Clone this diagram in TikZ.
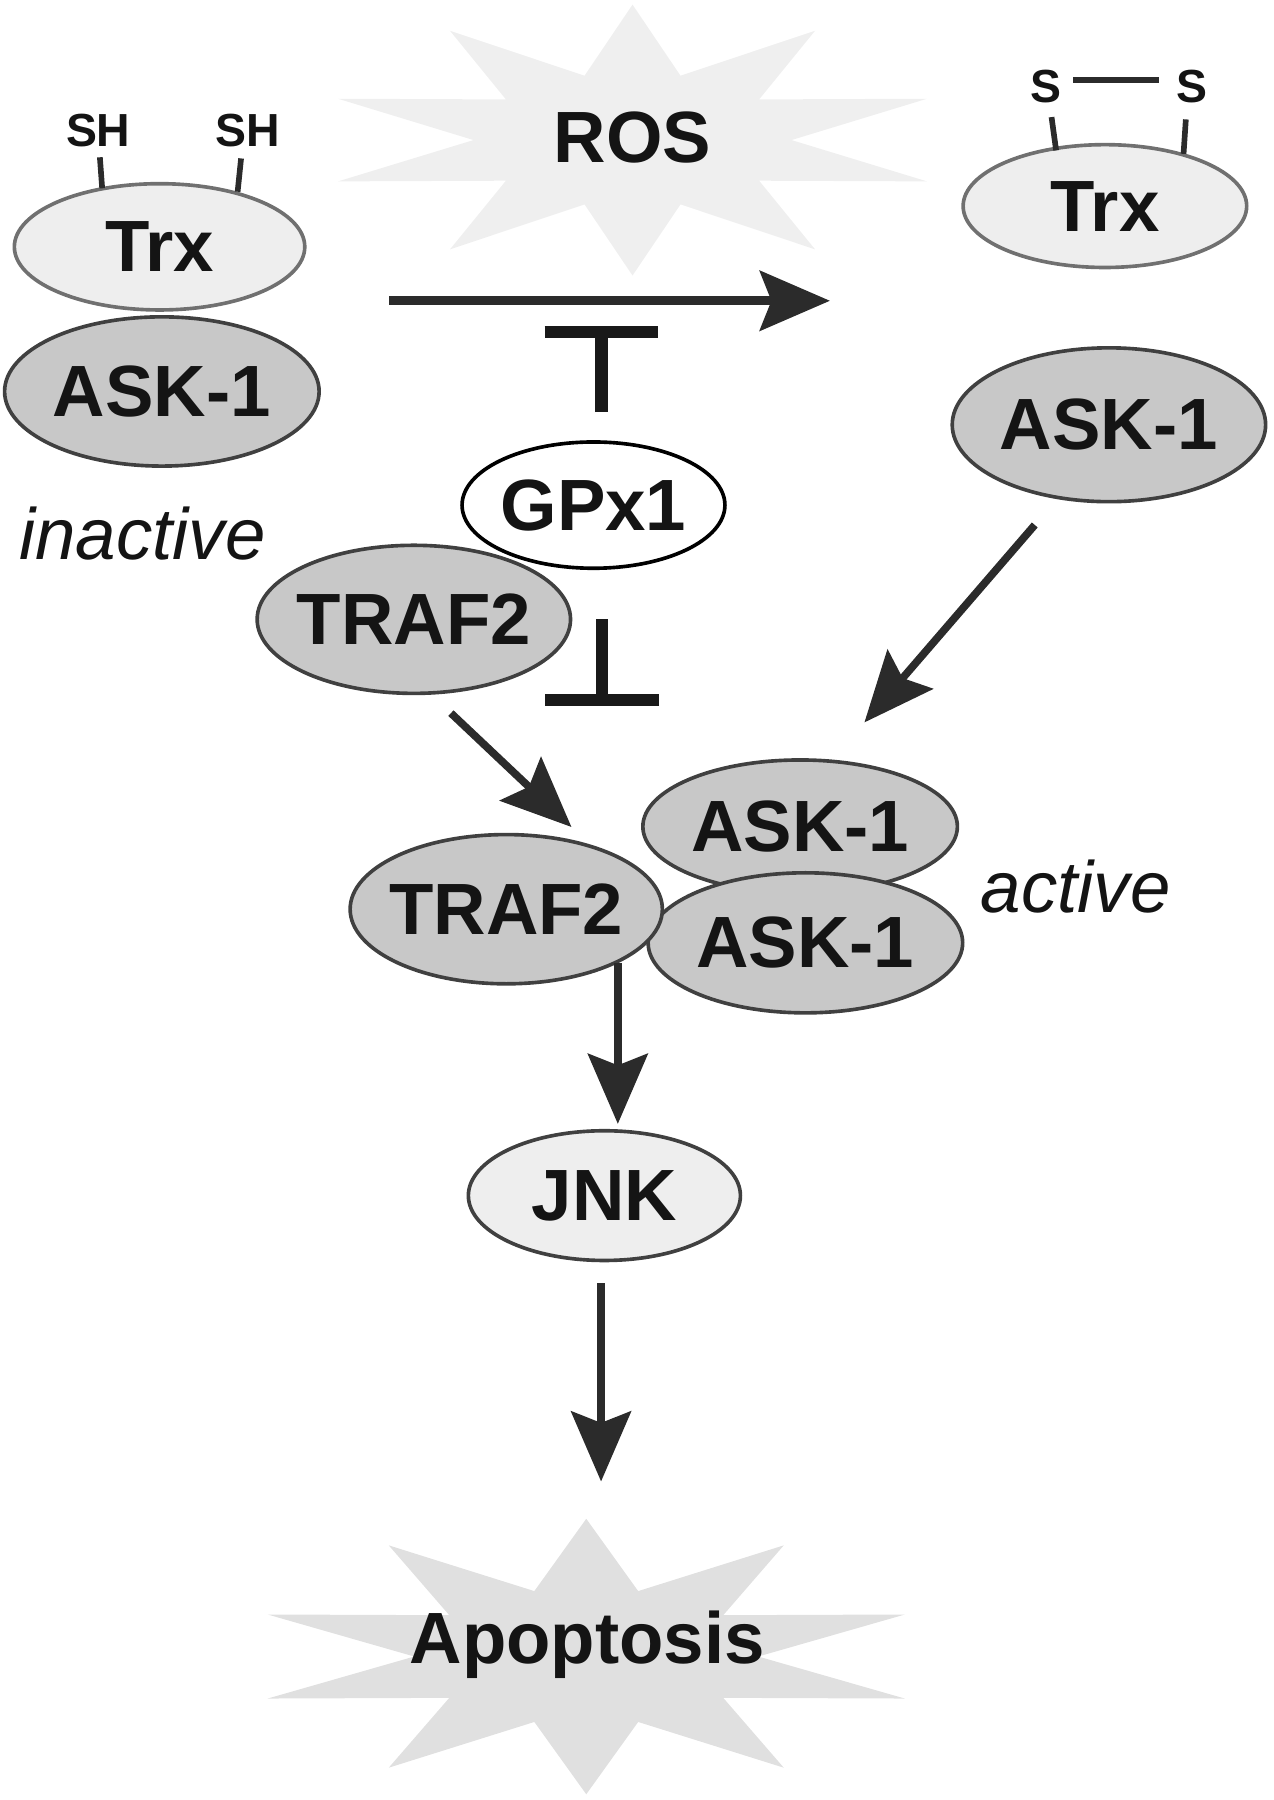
\documentclass[tikz,border=0pt]{standalone}
\usepackage{fontspec}
\setmainfont{Liberation Sans}
\usetikzlibrary{arrows.meta,shapes.geometric}

\definecolor{lightgrey}{HTML}{EEEEEE}
\definecolor{protgrey}{HTML}{C8C8C8}
\definecolor{rosgrey}{HTML}{EFEFEF}
\definecolor{apogrey}{HTML}{E0E0E0}
\definecolor{rimgrey}{HTML}{707070}
\definecolor{inkgrey}{HTML}{2B2B2B}

\tikzset{
  prot/.style={ellipse, draw=inkgrey!90, line width=0.9pt, fill=protgrey,
    inner xsep=-4mm, inner ysep=0pt, outer sep=0pt, text=black!92,
    font=\fontsize{18}{20}\selectfont\bfseries},
  trx/.style={prot, draw=rimgrey, fill=lightgrey},
  burst/.style={text=black!92, font=\fontsize{18}{20}\selectfont\bfseries},
  thiol/.style={text=black!92, inner sep=0pt, font=\fontsize{11.5}{13}\selectfont\bfseries},
  bond/.style={draw=inkgrey, line width=1.4pt},
  statetext/.style={text=black!92, font=\fontsize{18}{20}\selectfont\itshape},
  act/.style={draw=inkgrey, line width=1.9pt,
    -{Stealth[length=6.1mm,width=5.2mm,inset=1mm]}},
  inh/.style={draw=black!90, line width=3pt,
    -{Bar[width=9.9mm,line width=3pt]}}
}

\begin{document}
\begin{tikzpicture}[x=0.1mm, y=-0.1mm]
  \useasboundingbox (0,0) rectangle (1109,1568);

  % bursts
  \fill[rosgrey, shift={(551,122)}, xscale=256.5, yscale=118]
    (0,-1) -- (0.163,-0.475) -- (0.62,-0.807) -- (0.43,-0.3) -- (1,-0.305) -- (0.54,0)
    -- (1,0.305) -- (0.43,0.3) -- (0.62,0.807) -- (0.163,0.475) -- (0,1) -- (-0.163,0.475)
    -- (-0.62,0.807) -- (-0.43,0.3) -- (-1,0.305) -- (-0.54,0) -- (-1,-0.305) -- (-0.43,-0.3)
    -- (-0.62,-0.807) -- (-0.163,-0.475) -- cycle;
  \fill[apogrey, shift={(510.7,1443)}, xscale=277.5, yscale=120]
    (0,-1) -- (0.163,-0.475) -- (0.62,-0.807) -- (0.43,-0.3) -- (1,-0.305) -- (0.54,0)
    -- (1,0.305) -- (0.43,0.3) -- (0.62,0.807) -- (0.163,0.475) -- (0,1) -- (-0.163,0.475)
    -- (-0.62,0.807) -- (-0.43,0.3) -- (-1,0.305) -- (-0.54,0) -- (-1,-0.305) -- (-0.43,-0.3)
    -- (-0.62,-0.807) -- (-0.163,-0.475) -- cycle;
  \node[burst, anchor=base] (ros) at (551,141.5) {ROS};
  \node[burst, anchor=base] (apo) at (511.5,1448.7) {Apoptosis};

  % inactive complex
  \node[trx, minimum width=25.3mm, minimum height=11mm] (trxL) at (139,215) {Trx};
  \node[prot, minimum width=27.4mm, minimum height=13mm] (askL) at (141,341) {ASK-1};
  \node[thiol] (shL) at (85.6,113.5) {SH};
  \node[thiol] (shR) at (216,113.5) {SH};
  \draw[bond] (87,137) -- (89,164);
  \draw[bond] (210,138) -- (207,167);
  \node[statetext] (inact) at (124,465) {inactive};

  % oxidised Trx
  \node[trx, minimum width=24.7mm, minimum height=10.7mm] (trxR) at (962.5,179.5) {Trx};
  \node[thiol] (sL) at (911,75) {S};
  \node[thiol] (sR) at (1038,75) {S};
  \draw[bond] (935,69.5) -- (1010,69.5);
  \draw[bond] (916,102) -- (920,131);
  \draw[bond] (1033,104) -- (1031,134);
  \node[prot, minimum width=27.3mm, minimum height=13.4mm] (askR) at (966,370) {ASK-1};

  % GPx1 / TRAF2
  \node[prot, fill=white, draw=black, minimum width=22.9mm, minimum height=11mm] (gpx) at (517,440) {GPx1};
  \node[prot, minimum width=27.3mm, minimum height=12.9mm] (trafU) at (360.5,539.5) {TRAF2};

  % active signalosome
  \node[prot, minimum width=27.4mm, minimum height=11.6mm] (askC1) at (697,720) {ASK-1};
  \node[prot, minimum width=27.4mm, minimum height=12.2mm] (askC2) at (701.6,821.3) {ASK-1};
  \node[prot, minimum width=27.2mm, minimum height=13mm] (trafC) at (441,792) {TRAF2};
  \node[statetext] (act) at (937,772) {active};

  \node[prot, fill=lightgrey, minimum width=23.7mm, minimum height=11.3mm] (jnk) at (526.5,1041.5) {JNK};

  % connectors
  \coordinate (oxA) at (339,262);
  \coordinate (oxB) at (723,262);
  \coordinate (gIn1) at (524,359);
  \coordinate (gIn2) at (524,283.6);
  \coordinate (gIn3) at (524.6,539.4);
  \coordinate (gIn4) at (524.6,614.8);
  \coordinate (tA) at (392.8,621.2);
  \coordinate (tB) at (497.8,720.4);
  \coordinate (aA) at (901.4,457.3);
  \coordinate (aB) at (753,629.3);
  \coordinate (jA) at (538.2,838.7);
  \coordinate (jB) at (538.2,979);
  \coordinate (pA) at (523.6,1118);
  \coordinate (pB) at (523.6,1290.5);

  \draw[act, line width=2.2pt] (oxA) -- (oxB);
  \draw[inh] (gIn1) -- (gIn2);
  \draw[inh] (gIn3) -- (gIn4);
  \draw[act] (tA) -- (tB);
  \draw[act] (aA) -- (aB);
  \draw[act] (jA) -- (jB);
  \draw[act] (pA) -- (pB);
\end{tikzpicture}
\end{document}
